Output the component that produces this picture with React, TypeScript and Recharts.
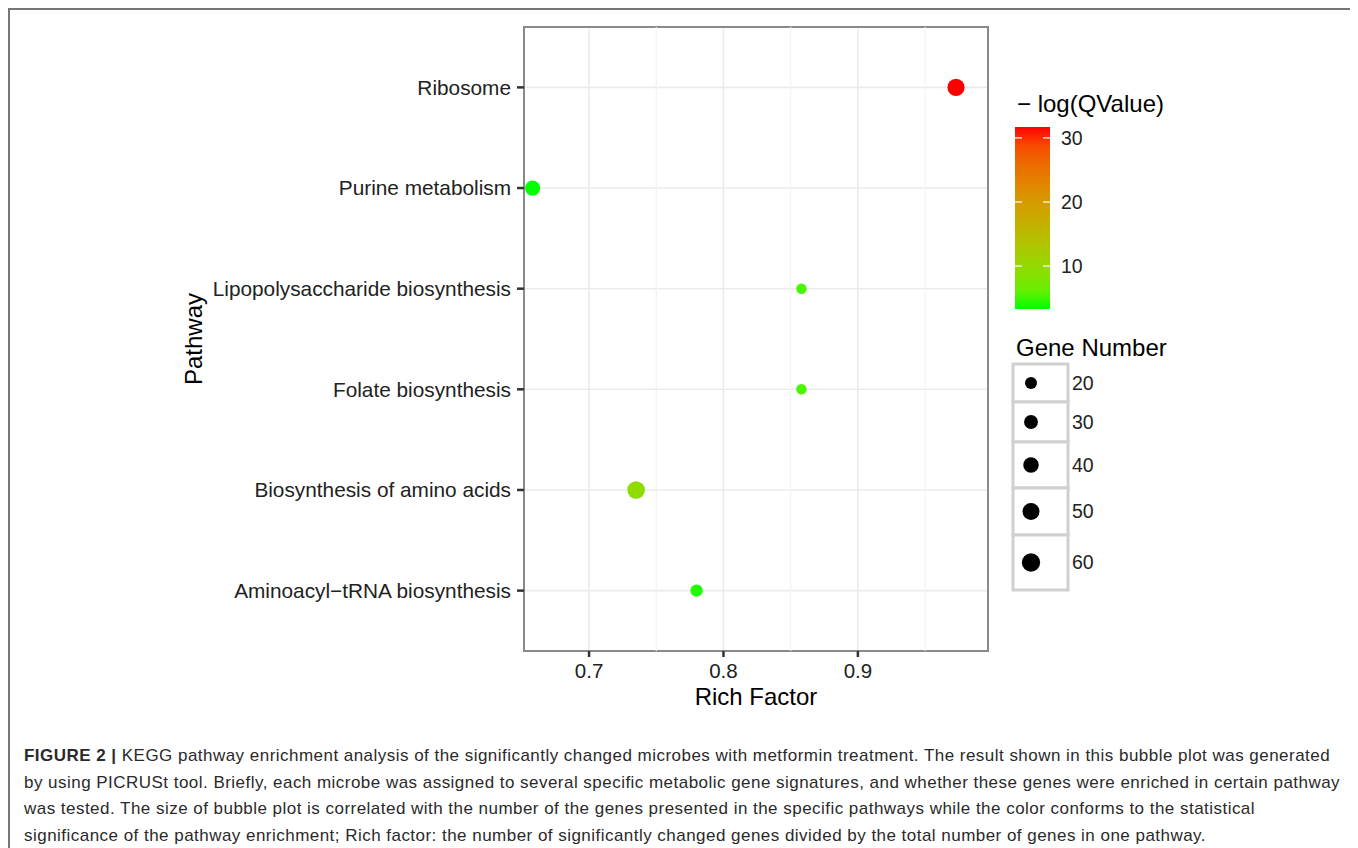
import React from 'react';
import {
  ScatterChart,
  Scatter,
  XAxis,
  YAxis,
  ZAxis,
  CartesianGrid,
  ReferenceLine,
  ReferenceArea,
  Cell,
} from 'recharts';

// pathways listed top to bottom as they appear on the y axis
const pathways = [
  'Ribosome',
  'Purine metabolism',
  'Lipopolysaccharide biosynthesis',
  'Folate biosynthesis',
  'Biosynthesis of amino acids',
  'Aminoacyl−tRNA biosynthesis',
];
const richFactor = [0.973, 0.658, 0.858, 0.858, 0.735, 0.78];
const geneNumber = [52, 38, 13, 13, 55, 22];
const negLogQ = [31.7, 3.3, 4.8, 4.8, 9.5, 3.6];

const xTicks = [0.7, 0.8, 0.9];
const xMinorTicks = [0.75, 0.85, 0.95];
const qTicks = [10, 20, 30];
const geneTicks = [20, 30, 40, 50, 60];

const captionLines = [
  'KEGG pathway enrichment analysis of the significantly changed microbes with metformin treatment. The result shown in this bubble plot was generated',
  'by using PICRUSt tool. Briefly, each microbe was assigned to several specific metabolic gene signatures, and whether these genes were enriched in certain pathway',
  'was tested. The size of bubble plot is correlated with the number of the genes presented in the specific pathways while the color conforms to the statistical',
  'significance of the pathway enrichment; Rich factor: the number of significantly changed genes divided by the total number of genes in one pathway.',
];

const xDomain: [number, number] = [0.6516, 0.9968];
const yDomain: [number, number] = [0.4, pathways.length + 0.6];
const yTicks = pathways.map((_, i) => pathways.length - i);

const qMin = Math.min(...negLogQ);
const qMax = Math.max(...negLogQ);

// bubble area grows linearly with gene count (px^2)
const sizeArea = (n: number) => 113 + 3.75 * (n - 20);
const zDomain: [number, number] = [10, 60];

// ggplot-style green -> red gradient, interpolated in Lab space
const toLin = (c: number) => {
  c /= 255;
  return c <= 0.04045 ? c / 12.92 : Math.pow((c + 0.055) / 1.055, 2.4);
};
const toSrgb = (c: number) => {
  c = Math.min(1, Math.max(0, c));
  const v = c <= 0.0031308 ? 12.92 * c : 1.055 * Math.pow(c, 1 / 2.4) - 0.055;
  return Math.round(v * 255);
};
const fLab = (t: number) => (t > 0.008856 ? Math.cbrt(t) : 7.787 * t + 16 / 116);
const fInv = (t: number) => (t * t * t > 0.008856 ? t * t * t : (t - 16 / 116) / 7.787);

function rgbToLab([r, g, b]: number[]) {
  const R = toLin(r), G = toLin(g), B = toLin(b);
  const X = (0.4124 * R + 0.3576 * G + 0.1805 * B) / 0.95047;
  const Y = 0.2126 * R + 0.7152 * G + 0.0722 * B;
  const Z = (0.0193 * R + 0.1192 * G + 0.9505 * B) / 1.08883;
  const fx = fLab(X), fy = fLab(Y), fz = fLab(Z);
  return [116 * fy - 16, 500 * (fx - fy), 200 * (fy - fz)];
}

function labToHex([L, a, b]: number[]) {
  const fy = (L + 16) / 116;
  const X = 0.95047 * fInv(fy + a / 500);
  const Y = fInv(fy);
  const Z = 1.08883 * fInv(fy - b / 200);
  const r = 3.2406 * X - 1.5372 * Y - 0.4986 * Z;
  const g = -0.9689 * X + 1.8758 * Y + 0.0415 * Z;
  const bl = 0.0557 * X - 0.204 * Y + 1.057 * Z;
  return '#' + [r, g, bl].map((c) => toSrgb(c).toString(16).padStart(2, '0')).join('');
}

const lowLab = rgbToLab([0, 255, 0]);
const highLab = rgbToLab([255, 0, 0]);

function qColor(q: number) {
  const t = (q - qMin) / (qMax - qMin);
  return labToHex(lowLab.map((v, i) => v + (highLab[i] - v) * t));
}

const Legends = () => {
  const barX = 1005;
  const barY = 117;
  const barW = 35;
  const barH = 182;
  const qToY = (q: number) => barY + barH - ((q - qMin) / (qMax - qMin)) * barH;
  const stops = Array.from({ length: 11 }, (_, k) => k / 10);

  const keyHeights = [38, 40, 46, 47, 55];
  let keyTop = 354;

  return (
    <svg
      width={1343}
      height={700}
      style={{ position: 'absolute', left: 0, top: 0, pointerEvents: 'none' }}
    >
      <defs>
        <linearGradient id="qbar" x1="0" y1="1" x2="0" y2="0">
          {stops.map((t) => (
            <stop key={t} offset={t} stopColor={qColor(qMin + t * (qMax - qMin))} />
          ))}
        </linearGradient>
      </defs>
      <text x={1007} y={102} fontSize={24} fill="#000">
        − log(QValue)
      </text>
      <rect x={barX} y={barY} width={barW} height={barH} fill="url(#qbar)" />
      {qTicks.map((q) => (
        <g key={q}>
          <line x1={barX} x2={barX + 7} y1={qToY(q)} y2={qToY(q)} stroke="#fff" strokeWidth={1.2} />
          <line x1={barX + barW - 7} x2={barX + barW} y1={qToY(q)} y2={qToY(q)} stroke="#fff" strokeWidth={1.2} />
          <text x={1051} y={qToY(q)} dy="0.35em" fontSize={19.5} fill="#222">
            {q}
          </text>
        </g>
      ))}

      <text x={1006} y={346} fontSize={24} fill="#000">
        Gene Number
      </text>
      {geneTicks.map((n, i) => {
        const h = keyHeights[i];
        const top = keyTop;
        keyTop += h;
        const cy = top + h / 2;
        return (
          <g key={n}>
            <rect x={1003} y={top} width={55} height={h} fill="#fff" stroke="#d0d0d0" strokeWidth={3} />
            <circle cx={1021} cy={cy} r={Math.sqrt(sizeArea(n) / Math.PI)} fill="#000" />
            <text x={1062} y={cy} dy="0.35em" fontSize={19.5} fill="#222">
              {n}
            </text>
          </g>
        );
      })}
    </svg>
  );
};

export default function App() {
  const data = pathways.map((name, i) => ({
    name,
    x: richFactor[i],
    y: pathways.length - i,
    z: geneNumber[i],
    q: negLogQ[i],
  }));

  return (
    <div
      style={{
        position: 'relative',
        width: 1343,
        height: 860,
        borderTop: '2px solid #767676',
        borderLeft: '2px solid #767676',
        borderRight: '2px solid #767676',
        fontFamily: '"Liberation Sans", Arial, sans-serif',
      }}
    >
      <style>{'html, body { overflow: hidden; }'}</style>
      <ScatterChart width={1000} height={700} margin={{ top: 17, right: 22, bottom: 0, left: 0 }}>
        {xMinorTicks.map((v) => (
          <ReferenceLine key={v} x={v} stroke="#f3f3f3" strokeWidth={1.2} />
        ))}
        <CartesianGrid stroke="#ebebeb" strokeWidth={1.6} />
        <XAxis
          type="number"
          dataKey="x"
          domain={xDomain}
          ticks={xTicks}
          allowDataOverflow
          height={59}
          axisLine={false}
          tickSize={6}
          tickMargin={6}
          tickLine={{ stroke: '#333', strokeWidth: 2.5 }}
          tick={{ fill: '#222', fontSize: 20.5 }}
          tickFormatter={(v: number) => v.toFixed(1)}
          label={{ value: 'Rich Factor', position: 'insideBottom', offset: 5, fontSize: 24, fill: '#000' }}
        />
        <YAxis
          type="number"
          dataKey="y"
          domain={yDomain}
          ticks={yTicks}
          interval={0}
          allowDataOverflow
          width={514}
          axisLine={false}
          tickSize={7}
          tickMargin={6}
          tickLine={{ stroke: '#333', strokeWidth: 2.5 }}
          tick={{ fill: '#222', fontSize: 20.8 }}
          tickFormatter={(v: number) => pathways[pathways.length - v]}
          label={{
            value: 'Pathway',
            angle: -90,
            position: 'insideLeft',
            offset: 183,
            fontSize: 24,
            fill: '#000',
            style: { textAnchor: 'middle' },
          }}
        />
        <ZAxis type="number" dataKey="z" domain={zDomain} range={[sizeArea(zDomain[0]), sizeArea(zDomain[1])]} />
        <Scatter data={data} isAnimationActive={false}>
          {data.map((d) => (
            <Cell key={d.name} fill={qColor(d.q)} />
          ))}
        </Scatter>
        <ReferenceArea
          x1={xDomain[0]}
          x2={xDomain[1]}
          y1={yDomain[0]}
          y2={yDomain[1]}
          fill="none"
          stroke="#8a8a8a"
          strokeWidth={2}
          ifOverflow="visible"
        />
      </ScatterChart>
      <Legends />
      <div
        style={{
          position: 'absolute',
          left: 14,
          top: 733,
          fontSize: 17,
          letterSpacing: '0.47px',
          lineHeight: '26.7px',
          color: '#2a2a2a',
          whiteSpace: 'nowrap',
        }}
      >
        {captionLines.map((line, i) => (
          <div key={i}>
            {i === 0 && <b>FIGURE 2 | </b>}
            {line}
          </div>
        ))}
      </div>
    </div>
  );
}
